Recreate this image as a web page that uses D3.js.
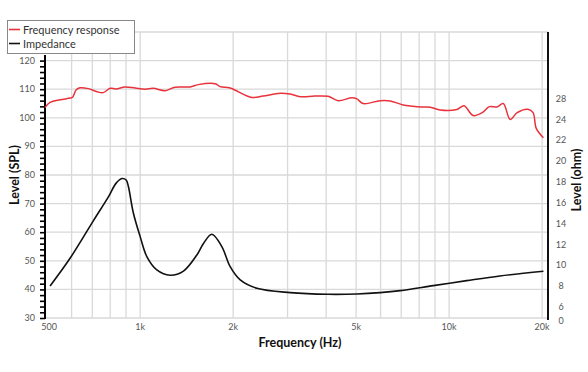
<!DOCTYPE html>
<html>
<head>
<meta charset="utf-8">
<script src="https://cdn.jsdelivr.net/npm/d3@7"></script>
<style>
  body { margin: 0; background: #fff; }
  text { font-family: "Lato", "Open Sans", sans-serif; }
</style>
</head>
<body>
<figure id="chart" style="margin:0"></figure>
<script>
// Frequency response (Hz, dB SPL)
const frFreq = [492, 511, 551, 593, 604, 621, 639, 679, 726, 759, 800, 836, 894, 963, 1038, 1102,
  1205, 1298, 1451, 1541, 1750, 1816, 1956, 2300, 2500, 2840, 3060, 3300, 3680, 4060, 4370,
  4850, 5030, 5270, 5980, 6450, 7100, 8070, 8690, 9360, 10600, 11180, 11960, 12800, 13500,
  14300, 14970, 15770, 16600, 18000, 18700, 19150, 20200];
const frSpl = [103.6, 105.4, 106.3, 106.9, 107.2, 109.8, 110.5, 110.2, 109.1, 108.8, 110.3, 110.1,
  110.8, 110.4, 110.0, 110.3, 109.5, 110.7, 110.8, 111.6, 111.9, 110.9, 110.4, 107.1, 107.6,
  108.6, 108.3, 107.4, 107.6, 107.5, 106.0, 107.0, 106.6, 105.0, 106.0, 105.9, 104.5, 103.8,
  103.7, 102.7, 102.9, 104.2, 100.8, 101.8, 103.9, 103.8, 105.0, 99.4, 101.8, 103.0, 101.8,
  96.3, 93.0];

// Impedance (Hz, ohm)
const zFreq = [511, 593, 706, 790, 836, 873, 901, 916, 951, 1000, 1051, 1132, 1250, 1381,
  1526, 1603, 1706, 1838, 1956, 2108, 2387, 3060, 4060, 5030, 5980, 6950, 8890, 11400, 14600, 20200];
const zOhm = [8.02, 10.68, 14.3, 16.6, 17.9, 18.34, 18.2, 17.57, 15.0, 12.76, 10.84, 9.56, 9.05,
  9.45, 11.0, 12.1, 12.99, 11.8, 9.87, 8.6, 7.8, 7.38, 7.22, 7.25, 7.38, 7.57, 8.05,
  8.53, 8.98, 9.43];

// Axes
const xGrid = [600, 700, 800, 900, 1000, 2000, 3000, 4000, 5000, 6000, 7000, 8000, 9000, 10000, 20000];
const xTicks = [500, 1000, 2000, 5000, 10000, 20000];
const xTickLabels = ["500", "1k", "2k", "5k", "10k", "20k"];
const splTicks = [30, 40, 50, 60, 70, 80, 90, 100, 110, 120];
const ohmTicks = [0, 6, 8, 10, 12, 14, 16, 18, 20, 22, 24, 28];

const seriesNames = ["Frequency response", "Impedance"];
const seriesColors = ["#e8333d", "#111111"];

const width = 588, height = 372;
const plotLeft = 45, plotRight = 548, plotTop = 32, plotBottom = 318;

const svg = d3.select("#chart").append("svg")
  .attr("width", width)
  .attr("height", height);

const x = d3.scaleLog().domain([492, 20900]).range([plotLeft, plotRight]);
const y = d3.scaleLinear().domain([30, 130]).range([plotBottom, plotTop]);
// right axis labels are not evenly spaced in the original
const y2 = d3.scaleLinear().domain([0, 6, 24, 28]).range([321, 307, 119.6, 99]);

// grid
const grid = svg.append("g").attr("stroke", "#d9d9d9").attr("stroke-width", 1.3);
grid.selectAll("line.h")
  .data(d3.range(30, 131, 10))
  .enter().append("line")
  .attr("x1", plotLeft).attr("x2", plotRight)
  .attr("y1", d => y(d)).attr("y2", d => y(d));
grid.selectAll("line.v")
  .data(xGrid)
  .enter().append("line")
  .attr("x1", d => x(d)).attr("x2", d => x(d))
  .attr("y1", plotTop).attr("y2", plotBottom);

// left axis with minor ticks
const yAxis = svg.append("g")
  .attr("transform", "translate(" + plotLeft + ",0)")
  .call(d3.axisLeft(y).tickValues(d3.range(30, 121, 2)).tickSize(5).tickFormat(""));
yAxis.select(".domain").attr("stroke-width", 2).attr("d", "M0," + (plotBottom + 1) + "V" + y(122));
yAxis.selectAll(".tick line").attr("stroke-width", 1.6);

svg.append("g").selectAll("text")
  .data(splTicks)
  .enter().append("text")
  .attr("x", 35).attr("y", d => y(d) + 3)
  .attr("text-anchor", "end")
  .attr("font-size", 9).attr("fill", "#555")
  .text(d => d);

// right axis
svg.append("line")
  .attr("x1", plotRight).attr("x2", plotRight)
  .attr("y1", plotTop).attr("y2", plotBottom + 2)
  .attr("stroke", "#111").attr("stroke-width", 2);
svg.append("g").selectAll("text")
  .data(ohmTicks)
  .enter().append("text")
  .attr("x", 561).attr("y", d => y2(d) + 3)
  .attr("text-anchor", "middle")
  .attr("font-size", 9).attr("fill", "#555")
  .text(d => d);

// x labels
svg.append("g").selectAll("text")
  .data(xTicks)
  .enter().append("text")
  .attr("x", (d, i) => x(d) + (i === 0 ? 2 : 0)).attr("y", 330)
  .attr("text-anchor", "middle")
  .attr("font-size", 9).attr("fill", "#555")
  .text((d, i) => xTickLabels[i]);

// curves
const frLine = d3.line()
  .x((d, i) => x(frFreq[i]))
  .y(d => y(d))
  .curve(d3.curveCatmullRom.alpha(0.5));
svg.append("path")
  .attr("d", frLine(frSpl))
  .attr("fill", "none").attr("stroke", seriesColors[0]).attr("stroke-width", 1.5);

const zLine = d3.line()
  .x((d, i) => x(zFreq[i]))
  .y(d => y2(d))
  .curve(d3.curveCatmullRom.alpha(0.5));
svg.append("path")
  .attr("d", zLine(zOhm))
  .attr("fill", "none").attr("stroke", seriesColors[1]).attr("stroke-width", 1.6);

// axis titles
svg.append("text")
  .attr("transform", "translate(19,175)rotate(-90)")
  .attr("text-anchor", "middle")
  .attr("font-size", 12.5).attr("font-weight", "bold").attr("fill", "#111")
  .text("Level (SPL)");
svg.append("text")
  .attr("transform", "translate(581,180)rotate(-90)")
  .attr("text-anchor", "middle")
  .attr("font-size", 12.5).attr("font-weight", "bold").attr("fill", "#111")
  .text("Level (ohm)");
svg.append("text")
  .attr("x", 300).attr("y", 347)
  .attr("text-anchor", "middle")
  .attr("font-size", 12.5).attr("font-weight", "bold").attr("fill", "#111")
  .text("Frequency (Hz)");

// legend
const legend = svg.append("g");
legend.append("rect")
  .attr("x", 7.5).attr("y", 20.5).attr("width", 127).attr("height", 33)
  .attr("fill", "#fff").attr("stroke", "#888");
seriesNames.forEach((name, i) => {
  const ly = 29.5 + i * 14;
  legend.append("line")
    .attr("x1", 9).attr("x2", 20).attr("y1", ly).attr("y2", ly)
    .attr("stroke", seriesColors[i]).attr("stroke-width", 1.6);
  legend.append("text")
    .attr("x", 23).attr("y", ly + 4)
    .attr("font-size", 11).attr("fill", "#333")
    .text(name);
});
</script>
</body>
</html>
